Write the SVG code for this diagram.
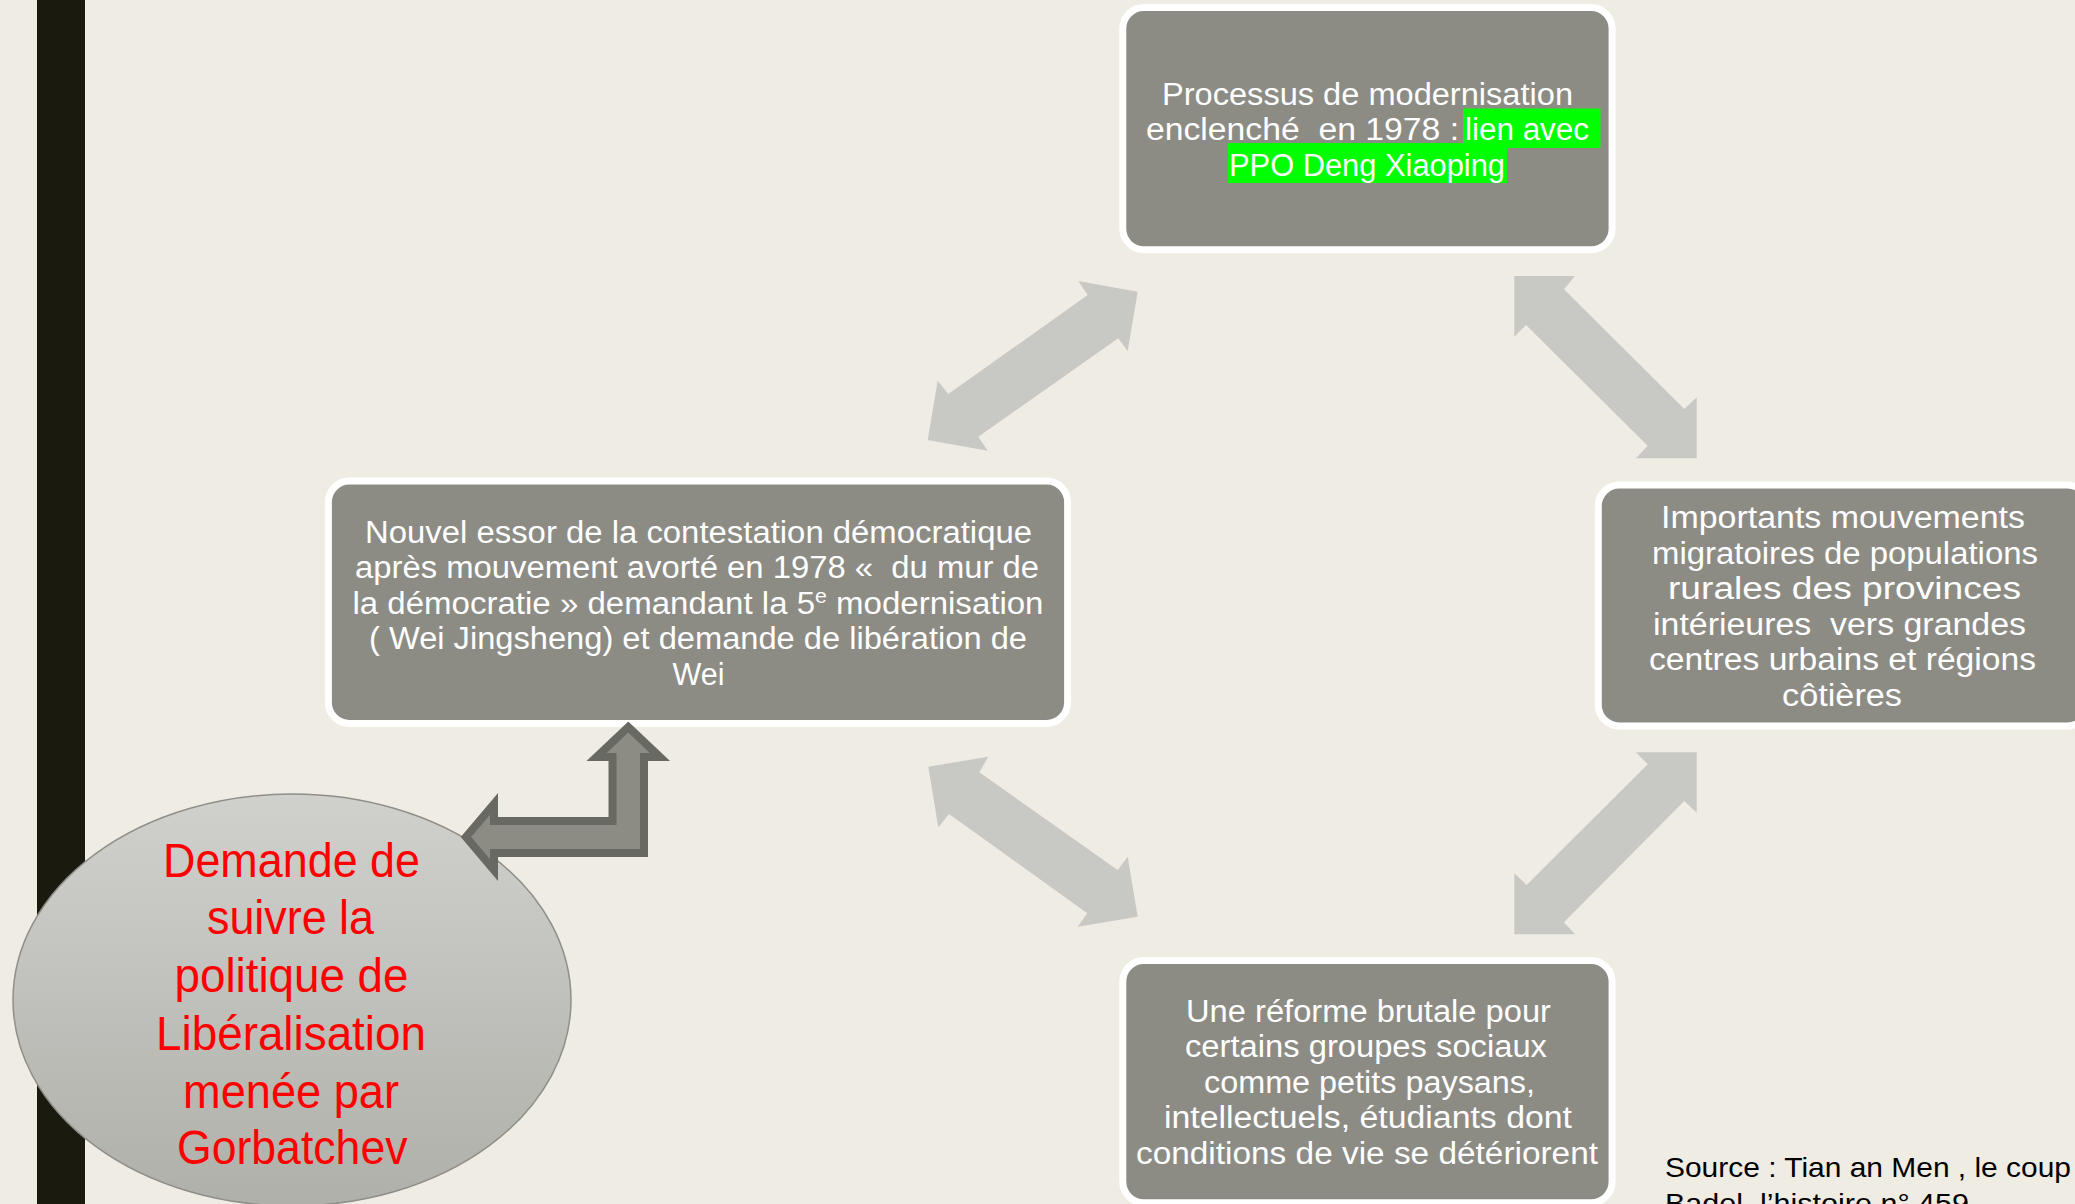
<svg xmlns="http://www.w3.org/2000/svg" width="2075" height="1204" viewBox="0 0 2075 1204">
<defs>
<linearGradient id="ellGrad" x1="0" y1="0" x2="0" y2="1">
<stop offset="0" stop-color="#d0d0cd"/>
<stop offset="1" stop-color="#b0b0aa"/>
</linearGradient>
</defs>
<style>
.box{fill:#8c8c85;stroke:#ffffff;stroke-width:7}
.bt{fill:#ffffff;font-family:"Liberation Sans",Arial,sans-serif;font-size:31px}
.rt{fill:#ff0000;font-family:"Liberation Sans",Arial,sans-serif;font-size:48px}
.st{fill:#000000;font-family:"Liberation Sans",Arial,sans-serif;font-size:28px}
.conn{fill:#c8c8c5;stroke:none}
.hl{fill:#00ff00}
</style>
<rect x="0" y="0" width="2075" height="1204" fill="#efece4"/>
<rect x="37" y="0" width="48" height="1204" fill="#1a1b0e"/>

<g id="connectors">
<polygon class="conn" points="1137.7,291.7 1127.7,351 1118.3,338.3 978.3,436.7 987.7,450.7 927.7,440 937.7,380.7 948.3,394 1087.7,295 1078.3,281"/>
<polygon class="conn" points="1514.3,276 1575,276 1564,289.3 1684.3,409 1696.7,397.3 1696.7,458.3 1636,458.3 1647.7,445.7 1526,325 1514.3,336.7"/>
<polygon class="conn" points="928.3,766.7 988.3,756.7 979.3,772.3 1117.7,870 1127.7,856.7 1137.7,916.7 1077.7,926.7 1087.3,913.3 949,814 938.3,827.3"/>
<polygon class="conn" points="1696.7,752.3 1696.7,812.7 1684.3,801 1564,922.3 1575,934.3 1514.3,934.3 1514.3,873.3 1526.7,885 1647.7,764.3 1636,752.3"/>
</g>

<g id="node-top">
<rect class="box" x="1122.8" y="7.5" width="489.3" height="242.3" rx="21"/>
<rect class="hl" x="1463" y="108.5" width="137.5" height="39.5"/>
<rect class="hl" x="1228" y="143" width="279" height="40"/>
<text class="bt" x="1162" y="104.5" textLength="411" lengthAdjust="spacingAndGlyphs">Processus de modernisation</text>
<text class="bt" x="1146" y="140" textLength="313" lengthAdjust="spacingAndGlyphs" xml:space="preserve">enclenché  en 1978 :</text>
<text class="bt" x="1465" y="140" textLength="124" lengthAdjust="spacingAndGlyphs">lien avec</text>
<text class="bt" x="1229" y="175.5" textLength="276" lengthAdjust="spacingAndGlyphs">PPO Deng Xiaoping</text>
</g>

<g id="node-left">
<rect class="box" x="328.4" y="481" width="739.2" height="242.5" rx="21"/>
<text class="bt" x="365" y="542.5" textLength="667" lengthAdjust="spacingAndGlyphs">Nouvel essor de la contestation démocratique</text>
<text class="bt" x="355" y="578" textLength="684" lengthAdjust="spacingAndGlyphs" xml:space="preserve">après mouvement avorté en 1978 «  du mur de</text>
<text class="bt" x="352.5" y="613.5" textLength="691" lengthAdjust="spacingAndGlyphs">la démocratie » demandant la 5<tspan font-size="20" dy="-11">e</tspan><tspan dy="11"> modernisation</tspan></text>
<text class="bt" x="369" y="649" textLength="658" lengthAdjust="spacingAndGlyphs">( Wei Jingsheng) et demande de libération de</text>
<text class="bt" x="672.5" y="684.5" textLength="52" lengthAdjust="spacingAndGlyphs">Wei</text>
</g>

<g id="node-right">
<rect class="box" x="1598.3" y="485" width="490" height="241" rx="21"/>
<text class="bt" x="1661" y="527.5" textLength="364" lengthAdjust="spacingAndGlyphs">Importants mouvements</text>
<text class="bt" x="1652" y="563.5" textLength="386" lengthAdjust="spacingAndGlyphs">migratoires de populations</text>
<text class="bt" x="1668" y="599" textLength="353" lengthAdjust="spacingAndGlyphs">rurales des provinces</text>
<text class="bt" x="1653" y="634.5" textLength="373" lengthAdjust="spacingAndGlyphs" xml:space="preserve">intérieures  vers grandes</text>
<text class="bt" x="1649" y="670" textLength="387" lengthAdjust="spacingAndGlyphs">centres urbains et régions</text>
<text class="bt" x="1782" y="705.5" textLength="120" lengthAdjust="spacingAndGlyphs">côtières</text>
</g>

<g id="node-bottom">
<rect class="box" x="1122.8" y="960.5" width="489.3" height="242.3" rx="21"/>
<text class="bt" x="1186" y="1021.5" textLength="365" lengthAdjust="spacingAndGlyphs">Une réforme brutale pour</text>
<text class="bt" x="1185" y="1057" textLength="362" lengthAdjust="spacingAndGlyphs">certains groupes sociaux</text>
<text class="bt" x="1204" y="1092.5" textLength="331" lengthAdjust="spacingAndGlyphs">comme petits paysans,</text>
<text class="bt" x="1164" y="1128" textLength="408" lengthAdjust="spacingAndGlyphs">intellectuels, étudiants dont</text>
<text class="bt" x="1136" y="1163.5" textLength="462" lengthAdjust="spacingAndGlyphs">conditions de vie se détériorent</text>
</g>

<g id="node-ellipse">
<ellipse cx="292" cy="1000" rx="279" ry="206" fill="url(#ellGrad)" stroke="#8f8f8a" stroke-width="1.5"/>
<text class="rt" x="163" y="876.5" textLength="257" lengthAdjust="spacingAndGlyphs">Demande de</text>
<text class="rt" x="207" y="933.5" textLength="167" lengthAdjust="spacingAndGlyphs">suivre la</text>
<text class="rt" x="174.5" y="991.5" textLength="234" lengthAdjust="spacingAndGlyphs">politique de</text>
<text class="rt" x="156" y="1049.5" textLength="270" lengthAdjust="spacingAndGlyphs">Libéralisation</text>
<text class="rt" x="183" y="1107.5" textLength="216" lengthAdjust="spacingAndGlyphs">menée par</text>
<text class="rt" x="177" y="1163.5" textLength="230.5" lengthAdjust="spacingAndGlyphs">Gorbatchev</text>
</g>

<g id="bent-arrow">
<polygon points="644,853 644,757 660,757 628.3,727 596.5,757 612.5,757 612.5,821 494,821 494,804 466,837 494,870 494,853" fill="#8c8c85" stroke="#686963" stroke-width="8" stroke-linejoin="miter" stroke-miterlimit="4"/>
</g>

<g id="source">
<text class="st" x="1665" y="1177" textLength="406" lengthAdjust="spacingAndGlyphs">Source : Tian an Men , le coup</text>
<text class="st" x="1665" y="1213" textLength="304" lengthAdjust="spacingAndGlyphs">Badel, l’histoire n° 459</text>
</g>
</svg>
